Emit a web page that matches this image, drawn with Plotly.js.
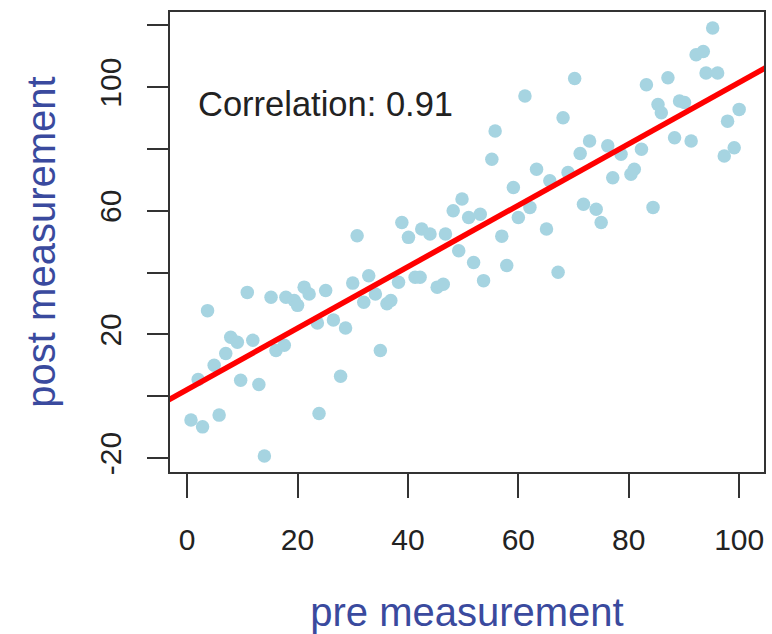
<!DOCTYPE html>
<html>
<head>
<meta charset="utf-8">
<script src="https://cdn.plot.ly/plotly-3.0.1.min.js"></script>
<style>html,body{margin:0;padding:0;background:#fff;}#chart{width:772px;height:634px;}</style>
</head>
<body>
<div id="chart"></div>
<script>
// pre measurement values (x)
var pre = [0.7, 2.8, 5.8, 2.0, 3.7, 4.9, 7.0, 7.9, 9.1, 9.7,
           10.9, 11.9, 13.0, 14.0, 15.2, 16.1, 17.6, 17.9, 19.4, 20.0,
           21.2, 22.1, 23.6, 23.9, 25.1, 26.5, 27.8, 28.7, 30.0, 30.8,
           32.0, 32.9, 34.1, 35.0, 36.2, 36.9, 38.3, 38.9, 40.1, 41.3,
           42.2, 42.5, 44.0, 45.3, 46.4, 46.8, 48.2, 49.2, 49.8, 51.0,
           51.9, 53.1, 53.7, 55.2, 55.8, 57.0, 57.9, 59.1, 60.0, 61.2,
           62.1, 63.3, 65.1, 65.7, 67.2, 68.1, 69.0, 70.2, 71.2, 71.8,
           72.9, 74.1, 75.0, 76.2, 77.1, 78.6, 80.4, 81.0, 82.3, 83.2,
           84.4, 85.3, 85.9, 87.1, 88.3, 89.2, 90.1, 91.3, 92.2, 93.5,
           94.0, 95.2, 96.1, 97.3, 97.9, 99.1, 100.0];
// post measurement values (y)
var post = [-7.7, -9.9, -6.1, 5.4, 27.7, 10.0, 13.8, 19.1, 17.5, 5.2,
            33.6, 18.1, 3.8, -19.3, 32.0, 14.8, 16.5, 32.0, 31.0, 29.4,
            35.3, 33.1, 23.7, -5.6, 34.2, 24.7, 6.5, 22.1, 36.6, 51.9,
            30.4, 39.0, 33.1, 14.8, 29.9, 31.0, 36.9, 56.2, 51.4, 38.5,
            38.5, 54.1, 52.5, 35.3, 36.2, 52.5, 60.0, 47.1, 63.8, 57.8,
            43.3, 58.9, 37.4, 76.7, 85.8, 51.8, 42.3, 67.5, 57.8, 97.1,
            61.1, 73.4, 54.1, 69.7, 40.1, 90.1, 72.4, 102.8, 78.5, 62.1,
            82.6, 60.5, 56.2, 81.0, 70.7, 78.3, 71.8, 73.4, 79.9, 100.8,
            61.1, 94.4, 91.7, 103.0, 83.6, 95.5, 95.0, 82.6, 110.5, 111.5,
            104.6, 119.1, 104.6, 77.7, 89.0, 80.4, 92.8];
var xTicks = [0, 20, 40, 60, 80, 100];
var yTicks = [-20, 0, 20, 40, 60, 80, 100, 120];
var yTickText = ["-20", "", "20", "", "60", "", "100", ""];
var correlationText = "Correlation: 0.91";

// least-squares fit computed from the data
var n = pre.length, mx = 0, my = 0;
for (var i = 0; i < n; i++) { mx += pre[i]; my += post[i]; }
mx /= n; my /= n;
var sxy = 0, sxx = 0;
for (var i = 0; i < n; i++) { sxy += (pre[i]-mx)*(post[i]-my); sxx += (pre[i]-mx)*(pre[i]-mx); }
var slope = sxy / sxx, intercept = my - slope * mx;
var lineX = [-10, 110];
var lineY = lineX.map(function (v) { return intercept + slope * v; });

var font = "Liberation Sans, Arial, sans-serif";
var data = [
  { x: pre, y: post, type: "scatter", mode: "markers",
    marker: { color: "#A6D4E1", size: 13.5 }, hoverinfo: "x+y" },
  { x: lineX, y: lineY, type: "scatter", mode: "lines",
    line: { color: "#FF0000", width: 5.5 }, hoverinfo: "skip" }
];
var layout = {
  width: 772, height: 634,
  margin: { l: 170, r: 8, t: 12, b: 162 },
  paper_bgcolor: "#fff", plot_bgcolor: "#fff",
  showlegend: false,
  font: { family: font, color: "#222" },
  xaxis: {
    range: [-3.1, 104.5], tickvals: xTicks, ticktext: xTicks.map(String),
    ticks: "outside", ticklen: 24, tickwidth: 2, tickcolor: "#333",
    ticklabelstandoff: 16,
    showline: true, mirror: true, linewidth: 2, linecolor: "#333",
    showgrid: false, zeroline: false,
    tickfont: { family: font, size: 30, color: "#222" },
    title: { text: "pre measurement", font: { family: font, size: 40, color: "#3a4a9e" }, standoff: 45 }
  },
  yaxis: {
    range: [-24.5, 124.3], tickvals: yTicks, ticktext: yTickText, tickangle: -90,
    ticks: "outside", ticklen: 21, tickwidth: 2, tickcolor: "#333",
    ticklabelstandoff: 14,
    showline: true, mirror: true, linewidth: 2, linecolor: "#333",
    showgrid: false, zeroline: false,
    tickfont: { family: font, size: 30, color: "#222" },
    title: { text: "post measurement", font: { family: font, size: 40, color: "#3a4a9e" }, standoff: 26 }
  },
  annotations: [{
    x: 25, y: 94.5, xref: "x", yref: "y", text: correlationText, showarrow: false,
    font: { family: font, size: 34.5, color: "#222" }
  }]
};
Plotly.newPlot("chart", data, layout, { displayModeBar: false, staticPlot: true });
</script>
</body>
</html>
